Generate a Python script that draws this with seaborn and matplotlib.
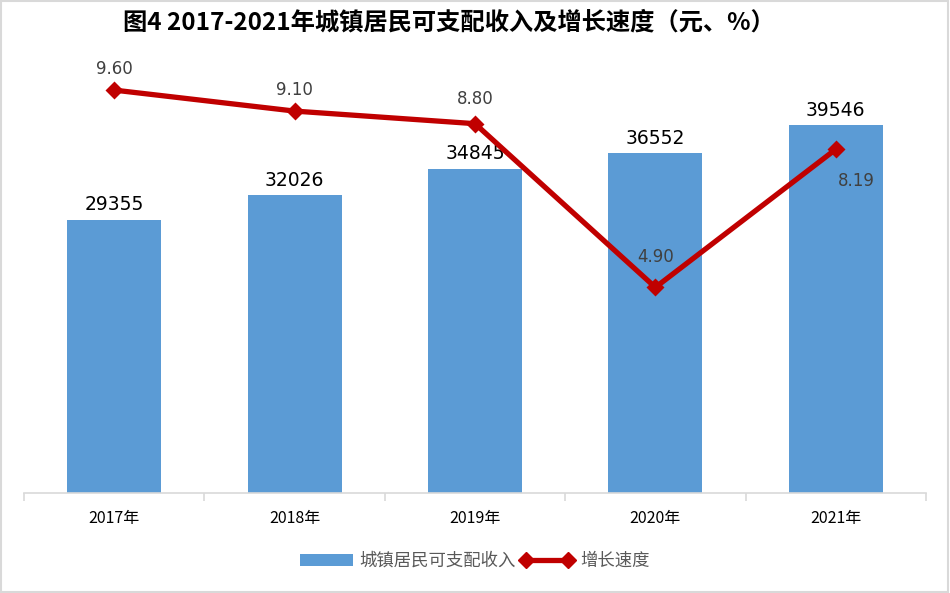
import seaborn as sns, pandas as pd, matplotlib.pyplot as plt
from matplotlib.lines import Line2D
from matplotlib.patches import Patch, Rectangle

years = ['2017年', '2018年', '2019年', '2020年', '2021年']
income = [29355, 32026, 34845, 36552, 39546]
growth = [9.60, 9.10, 8.80, 4.90, 8.19]

bar_color = '#5B9BD5'
line_color = '#C00000'

sns.set_style('white')
plt.rcParams['font.family'] = ['Noto Sans CJK SC', 'DejaVu Sans']

df = pd.DataFrame({'year': years, 'income': income, 'growth': growth})

fig = plt.figure(figsize=(9.5, 5.93), dpi=100)
ax = fig.add_axes([0.0253, 0.1686, 0.9494, 0.7842])

sns.barplot(data=df, x='year', y='income', color=bar_color, width=0.52,
            saturation=1, linewidth=0, ax=ax)
ax.set_ylim(0, 50000)
ax.set_xlim(-0.5, len(years) - 0.5)

# bar labels
for i, v in enumerate(income):
    ax.annotate(str(v), (i, v), xytext=(0, 4), textcoords='offset points',
                ha='center', va='bottom', fontsize=13.5, color='black',
                family=['DejaVu Sans'])

ax2 = ax.twinx()
sns.pointplot(data=df, x='year', y='growth', color=line_color, markers='D',
              linestyles='-', ax=ax2)
for l in ax2.lines:
    l.set_linewidth(3.8)
    l.set_markersize(7.5)
ax2.set_ylim(0, 11.08)
ax2.set_xlim(-0.5, len(years) - 0.5)

# line labels
offsets = [(0, 15), (0, 15), (0, 18), (0, 22), (15, -23)]
for i, (v, off) in enumerate(zip(growth, offsets)):
    ax2.annotate(f'{v:.2f}', (i, v), xytext=off, textcoords='offset points',
                 ha='center', va='center', fontsize=12, color='#404040',
                 family=['DejaVu Sans'])

for a in (ax, ax2):
    a.set_xlabel('')
    a.set_ylabel('')
    a.set_yticks([])
    for s in ['top', 'left', 'right']:
        a.spines[s].set_visible(False)
ax2.spines['bottom'].set_visible(False)
ax.spines['bottom'].set_color('#D9D9D9')
ax.spines['bottom'].set_linewidth(1.2)

ax.set_xticks(range(len(years)))
ax.set_xticklabels(years, fontsize=11.5, color='black')
ax.set_xticks([i - 0.5 for i in range(len(years) + 1)], minor=True)
ax.tick_params(axis='x', which='major', length=0, pad=12)
ax.tick_params(axis='x', which='minor', length=6, width=1.2, color='#D9D9D9',
               direction='out', bottom=True)
ax2.tick_params(axis='x', length=0, labelbottom=False)

fig.text(0.472, 0.962, '图4 2017-2021年城镇居民可支配收入及增长速度（元、%）',
         ha='center', va='center', fontsize=17.5, fontweight='bold',
         color='black')

handles = [Patch(facecolor=bar_color, edgecolor='none'),
           Line2D([0], [0], color=line_color, lw=3.8, marker='D',
                  markersize=8)]
fig.legend(handles, ['城镇居民可支配收入', '增长速度'], loc='center',
           bbox_to_anchor=(0.5, 0.054), ncol=2, frameon=False, fontsize=12.5,
           labelcolor='#595959', numpoints=2, handlelength=3,
           columnspacing=0.3, handletextpad=0.4)

fig.add_artist(Rectangle((0.001, 0.002), 0.997, 0.996, transform=fig.transFigure,
                         fill=False, edgecolor='#D9D9D9', linewidth=1.5))

fig.savefig('out.png', dpi=100)
